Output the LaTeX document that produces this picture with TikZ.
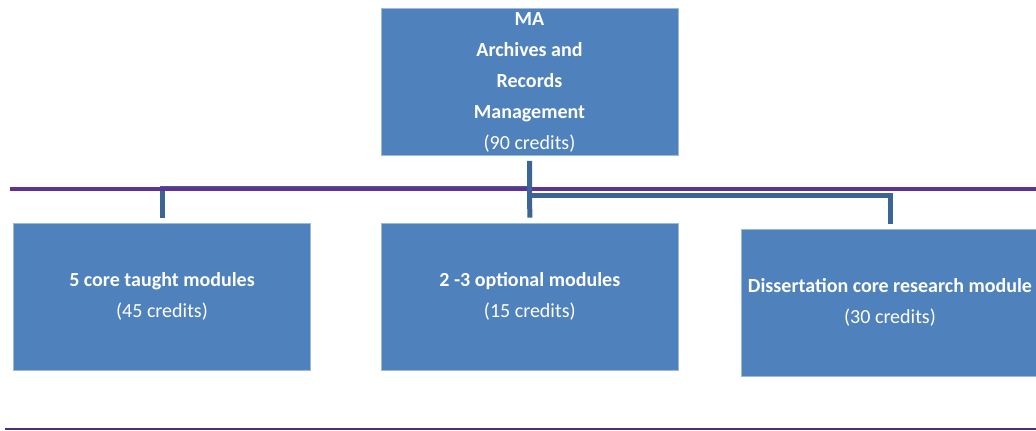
\documentclass[tikz,border=0pt]{standalone}
\usepackage{fontspec}
\setmainfont{Carlito}
\usetikzlibrary{positioning}
\definecolor{boxblue}{RGB}{79,129,189}
\definecolor{linkblue}{RGB}{60,100,150}
\definecolor{rulepurple}{RGB}{96,50,146}

\begin{document}
\begin{tikzpicture}[x=0.5pt,y=-0.5pt]
            \tikzstyle{module} = [rectangle, fill=boxblue, draw=boxblue!55!white, line width=0.4pt, text=white, minimum width=148.5pt, minimum height=73.5pt, align=center, inner sep=0pt, font=\fontsize{10}{15.5}\selectfont]
            \tikzstyle{link}   = [draw=linkblue, line width=2.5pt]
            \tikzstyle{rule}   = [draw=rulepurple, line width=2pt]

            \useasboundingbox (0,0) rectangle (1036,430);

            \node[module] (ma) at (529.5,82) {\textbf{MA}\\ \textbf{Archives and}\\ \textbf{Records}\\ \textbf{Management}\\ (90 credits)};

            \node[module] (core) at (162,296.5) {\textbf{5 core taught modules}\\ (45 credits)};
            \node[module, right=35pt of core] (optional) {\textbf{2 -3 optional modules}\\ (15 credits)};
            \node[module] (dissertation) at (890,302.5) {\textbf{Dissertation core research module}\\ (30 credits)};

            \coordinate (split) at (529.5,188);
            \coordinate (fork) at (529.5,195);

            \draw[link, shorten <=2.5pt] (core.north) |- (split);
            \draw[link, shorten <=2.5pt] (dissertation.north) |- (fork);

            % Rules
            \draw[rule] (10,189) -- (1036,189);
            \draw[draw=rulepurple!85!black, line width=0.6pt] (5,429) -- (1036,429);

            \draw[link, shorten <=2.5pt, shorten >=2.5pt] (ma.south) -- (optional.north);
        \end{tikzpicture}
\end{document}
